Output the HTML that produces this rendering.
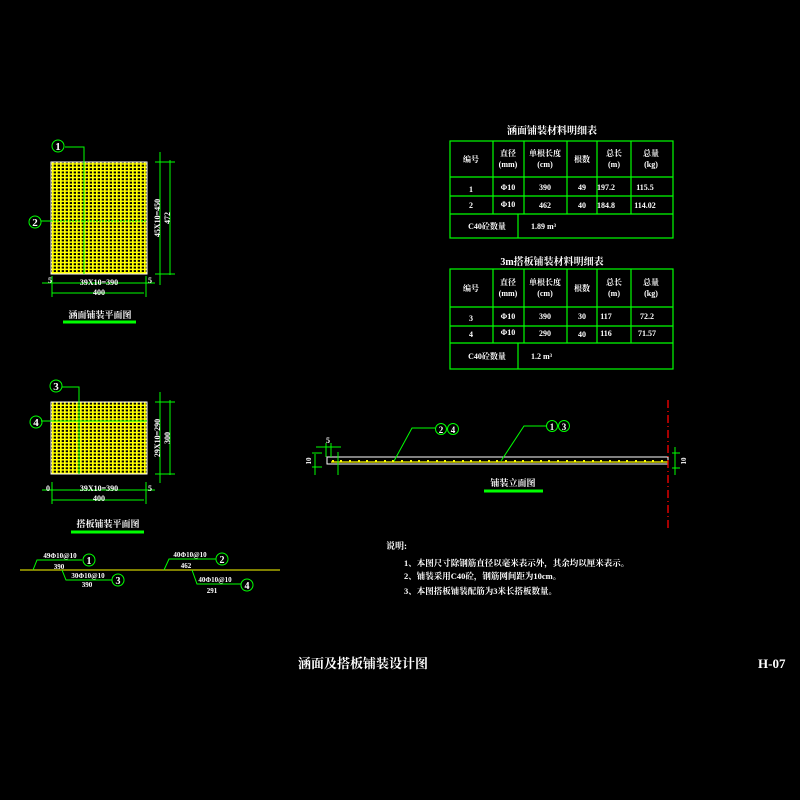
<!DOCTYPE html>
<html><head><meta charset="utf-8"><style>
html,body{margin:0;padding:0;background:#000;width:800px;height:800px;overflow:hidden}
svg{display:block}
text{font-family:"Liberation Serif","Noto Serif CJK SC","Noto Sans CJK SC",serif;fill:#fff;font-weight:bold}
</style></head><body>
<svg width="800" height="800" viewBox="0 0 800 800" xmlns="http://www.w3.org/2000/svg">
<defs>
<pattern id="g" width="4" height="3.4" patternUnits="userSpaceOnUse">
<rect width="4" height="3.4" fill="#000"/>
<rect x="0" y="0" width="1.7" height="3.4" fill="#ff0"/>
<rect x="0" y="0" width="4" height="1.5" fill="#ff0"/>
</pattern>
</defs>
<rect width="800" height="800" fill="#000"/>

<!-- Plan 1 -->
<rect x="51" y="162" width="96" height="112" fill="url(#g)" stroke="#fff" stroke-width="1"/>
<g stroke="#0f0" stroke-width="1" fill="none">
<line x1="84" y1="162" x2="84" y2="274"/>
<polyline points="65,147 84,147 84,162"/>
<circle cx="58" cy="146" r="6"/>
<polyline points="41,221 51,221"/>
<line x1="51" y1="221" x2="147" y2="221" stroke-dasharray="2,1"/>
<circle cx="35" cy="222" r="6"/>
<line x1="160" y1="152" x2="160" y2="285"/>
<line x1="170" y1="160" x2="170" y2="275"/>
<line x1="155" y1="162" x2="175" y2="162"/>
<line x1="155" y1="274" x2="175" y2="274"/>
<line x1="42" y1="283" x2="155" y2="283"/>
<line x1="52" y1="293" x2="144" y2="293"/>
<line x1="52" y1="276" x2="52" y2="297"/>
<line x1="146" y1="276" x2="146" y2="297"/>
<line x1="63" y1="322" x2="136" y2="322" stroke-width="3"/>
</g>
<text x="58" y="150" font-size="11" text-anchor="middle">1</text>
<text x="35" y="226" font-size="11" text-anchor="middle">2</text>
<text x="99" y="285" font-size="8" text-anchor="middle">39X10=390</text>
<text x="99" y="295" font-size="8" text-anchor="middle">400</text>
<text x="48" y="283" font-size="8">5</text><text x="148" y="283" font-size="8">5</text>
<text transform="translate(160,218) rotate(-90)" font-size="8" text-anchor="middle">45X10=450</text>
<text transform="translate(170,218) rotate(-90)" font-size="8" text-anchor="middle">472</text>
<text x="100" y="318" font-size="9" text-anchor="middle">涵面铺装平面图</text>

<!-- Plan 2 -->
<rect x="51" y="402" width="96" height="72" fill="url(#g)" stroke="#fff" stroke-width="1"/>
<g stroke="#0f0" stroke-width="1" fill="none">
<line x1="79" y1="402" x2="79" y2="474"/>
<polyline points="62,387 79,387 79,402"/>
<circle cx="56" cy="386" r="6"/>
<line x1="41" y1="421" x2="147" y2="421"/>
<circle cx="36" cy="422" r="6"/>
<line x1="160" y1="392" x2="160" y2="483"/>
<line x1="170" y1="400" x2="170" y2="475"/>
<line x1="155" y1="402" x2="175" y2="402"/>
<line x1="155" y1="474" x2="175" y2="474"/>
<line x1="42" y1="490" x2="155" y2="490"/>
<line x1="52" y1="500" x2="144" y2="500"/>
<line x1="52" y1="482" x2="52" y2="504"/>
<line x1="146" y1="482" x2="146" y2="504"/>
<line x1="71" y1="532" x2="144" y2="532" stroke-width="3"/>
</g>
<text x="56" y="390" font-size="11" text-anchor="middle">3</text>
<text x="36" y="426" font-size="11" text-anchor="middle">4</text>
<text x="99" y="491" font-size="8" text-anchor="middle">39X10=390</text>
<text x="99" y="501" font-size="8" text-anchor="middle">400</text>
<text x="46" y="491" font-size="8">0</text><text x="148" y="491" font-size="8">5</text>
<text transform="translate(160,438) rotate(-90)" font-size="8" text-anchor="middle">29X10=290</text>
<text transform="translate(170,438) rotate(-90)" font-size="8" text-anchor="middle">300</text>
<text x="108" y="527" font-size="9" text-anchor="middle">搭板铺装平面图</text>

<!-- bar shapes -->
<line x1="20" y1="570" x2="280" y2="570" stroke="#ff0" stroke-width="1"/>
<g stroke="#0f0" stroke-width="1" fill="none">
<polyline points="33,570 37,560 82,560"/><circle cx="89" cy="560" r="6"/>
<polyline points="62,570 66,580 112,580"/><circle cx="118" cy="580" r="6"/>
<polyline points="164,570 169,559 216,559"/><circle cx="222" cy="559" r="6"/>
<polyline points="192,570 197,584 241,584"/><circle cx="247" cy="585" r="6"/>
</g>
<text x="60" y="558" font-size="7" text-anchor="middle">49Φ10@10</text>
<text x="59" y="569" font-size="7" text-anchor="middle">390</text>
<text x="89" y="564" font-size="10" text-anchor="middle">1</text>
<text x="88" y="578" font-size="7" text-anchor="middle">30Φ10@10</text>
<text x="87" y="587" font-size="7" text-anchor="middle">390</text>
<text x="118" y="584" font-size="10" text-anchor="middle">3</text>
<text x="190" y="557" font-size="7" text-anchor="middle">40Φ10@10</text>
<text x="186" y="568" font-size="7" text-anchor="middle">462</text>
<text x="222" y="563" font-size="10" text-anchor="middle">2</text>
<text x="215" y="582" font-size="7" text-anchor="middle">40Φ10@10</text>
<text x="212" y="593" font-size="7" text-anchor="middle">291</text>
<text x="247" y="589" font-size="10" text-anchor="middle">4</text>

<!-- Table 1 -->
<text x="552" y="134" font-size="10" text-anchor="middle">涵面铺装材料明细表</text>
<g stroke="#0f0" stroke-width="1.2" fill="none">
<rect x="450" y="141" width="223" height="97"/>
<line x1="450" y1="177" x2="673" y2="177"/>
<line x1="450" y1="196" x2="673" y2="196"/>
<line x1="450" y1="214" x2="673" y2="214"/>
<line x1="493" y1="141" x2="493" y2="214"/>
<line x1="524" y1="141" x2="524" y2="214"/>
<line x1="567" y1="141" x2="567" y2="214"/>
<line x1="597" y1="141" x2="597" y2="214"/>
<line x1="631" y1="141" x2="631" y2="214"/>
<line x1="518" y1="214" x2="518" y2="238"/>
</g>
<g font-size="8" text-anchor="middle">
<text x="471" y="162">编号</text>
<text x="508" y="156">直径</text><text x="508" y="167">(mm)</text>
<text x="545" y="156">单根长度</text><text x="545" y="167">(cm)</text>
<text x="582" y="162">根数</text>
<text x="614" y="156">总长</text><text x="614" y="167">(m)</text>
<text x="651" y="156">总量</text><text x="651" y="167">(kg)</text>
<text x="471" y="192">1</text><text x="508" y="190">Φ10</text><text x="545" y="190">390</text><text x="582" y="190">49</text><text x="606" y="190">197.2</text><text x="645" y="190">115.5</text>
<text x="471" y="208">2</text><text x="508" y="207">Φ10</text><text x="545" y="208">462</text><text x="582" y="208">40</text><text x="606" y="208">184.8</text><text x="645" y="208">114.02</text>
<text x="487" y="229">C40砼数量</text>
</g>
<text x="531" y="229" font-size="8">1.89 m³</text>

<!-- Table 2 -->
<text x="552" y="265" font-size="10" text-anchor="middle">3m搭板铺装材料明细表</text>
<g stroke="#0f0" stroke-width="1.2" fill="none">
<rect x="450" y="269" width="223" height="100"/>
<line x1="450" y1="307" x2="673" y2="307"/>
<line x1="450" y1="326" x2="673" y2="326"/>
<line x1="450" y1="343" x2="673" y2="343"/>
<line x1="493" y1="269" x2="493" y2="343"/>
<line x1="524" y1="269" x2="524" y2="343"/>
<line x1="567" y1="269" x2="567" y2="343"/>
<line x1="597" y1="269" x2="597" y2="343"/>
<line x1="631" y1="269" x2="631" y2="343"/>
<line x1="518" y1="343" x2="518" y2="369"/>
</g>
<g font-size="8" text-anchor="middle">
<text x="471" y="291">编号</text>
<text x="508" y="285">直径</text><text x="508" y="296">(mm)</text>
<text x="545" y="285">单根长度</text><text x="545" y="296">(cm)</text>
<text x="582" y="291">根数</text>
<text x="614" y="285">总长</text><text x="614" y="296">(m)</text>
<text x="651" y="285">总量</text><text x="651" y="296">(kg)</text>
<text x="471" y="321">3</text><text x="508" y="319">Φ10</text><text x="545" y="319">390</text><text x="582" y="319">30</text><text x="606" y="319">117</text><text x="647" y="319">72.2</text>
<text x="471" y="337">4</text><text x="508" y="335">Φ10</text><text x="545" y="336">290</text><text x="582" y="337">40</text><text x="606" y="336">116</text><text x="647" y="336">71.57</text>
<text x="487" y="359">C40砼数量</text>
</g>
<text x="531" y="359" font-size="8">1.2  m³</text>

<!-- Elevation -->
<rect x="327" y="457" width="341" height="7" fill="none" stroke="#fff" stroke-width="1"/>
<line x1="331" y1="462" x2="668" y2="462" stroke="#ff0" stroke-width="1.3"/>
<g fill="#ff0">
<rect x="332" y="460" width="2" height="2"/><rect x="340" y="460" width="2" height="2"/><rect x="349" y="460" width="2" height="2"/><rect x="358" y="460" width="2" height="2"/><rect x="366" y="460" width="2" height="2"/><rect x="375" y="460" width="2" height="2"/><rect x="384" y="460" width="2" height="2"/><rect x="392" y="460" width="2" height="2"/><rect x="401" y="460" width="2" height="2"/><rect x="410" y="460" width="2" height="2"/><rect x="418" y="460" width="2" height="2"/><rect x="427" y="460" width="2" height="2"/><rect x="436" y="460" width="2" height="2"/><rect x="444" y="460" width="2" height="2"/><rect x="453" y="460" width="2" height="2"/><rect x="462" y="460" width="2" height="2"/><rect x="470" y="460" width="2" height="2"/><rect x="479" y="460" width="2" height="2"/><rect x="488" y="460" width="2" height="2"/><rect x="496" y="460" width="2" height="2"/><rect x="505" y="460" width="2" height="2"/><rect x="514" y="460" width="2" height="2"/><rect x="522" y="460" width="2" height="2"/><rect x="531" y="460" width="2" height="2"/><rect x="540" y="460" width="2" height="2"/><rect x="548" y="460" width="2" height="2"/><rect x="557" y="460" width="2" height="2"/><rect x="566" y="460" width="2" height="2"/><rect x="574" y="460" width="2" height="2"/><rect x="583" y="460" width="2" height="2"/><rect x="592" y="460" width="2" height="2"/><rect x="600" y="460" width="2" height="2"/><rect x="609" y="460" width="2" height="2"/><rect x="618" y="460" width="2" height="2"/><rect x="626" y="460" width="2" height="2"/><rect x="635" y="460" width="2" height="2"/><rect x="644" y="460" width="2" height="2"/><rect x="652" y="460" width="2" height="2"/><rect x="661" y="460" width="2" height="2"/>
</g>
<g stroke="#0f0" stroke-width="1" fill="none">
<polyline points="394,461 412,428 435,428"/><circle cx="441" cy="429" r="5.5"/><circle cx="453" cy="429" r="5.5"/>
<polyline points="501,461 524,426 547,426"/><circle cx="552" cy="426" r="5.5"/><circle cx="564" cy="426" r="5.5"/>
<line x1="315" y1="454" x2="315" y2="475"/><line x1="312" y1="453" x2="322" y2="453"/><line x1="312" y1="467" x2="322" y2="467"/>
<line x1="326" y1="443" x2="326" y2="457"/><line x1="331" y1="443" x2="331" y2="457"/><line x1="316" y1="447" x2="341" y2="447"/>
<line x1="338" y1="452" x2="338" y2="475"/>
<line x1="675" y1="447" x2="675" y2="475"/><line x1="672" y1="453" x2="680" y2="453"/><line x1="672" y1="468" x2="680" y2="468"/>
<line x1="484" y1="491" x2="543" y2="491" stroke-width="3"/>
</g>
<line x1="668" y1="400" x2="668" y2="530" stroke="#f00" stroke-width="1.3" stroke-dasharray="8,3,1,3"/>
<text x="441" y="433" font-size="9" text-anchor="middle">2</text><text x="453" y="433" font-size="9" text-anchor="middle">4</text>
<text x="552" y="430" font-size="9" text-anchor="middle">1</text><text x="564" y="430" font-size="9" text-anchor="middle">3</text>
<text x="326" y="443" font-size="8">5</text>
<text transform="translate(311,461) rotate(-90)" font-size="7" text-anchor="middle">10</text>
<text transform="translate(686,461) rotate(-90)" font-size="7" text-anchor="middle">10</text>
<text x="513" y="486" font-size="9" text-anchor="middle">铺装立面图</text>

<!-- Notes -->
<text x="386" y="549" font-size="9">说明:</text>
<text x="404" y="566" font-size="8.5">1、本图尺寸除钢筋直径以毫米表示外，其余均以厘米表示。</text>
<text x="404" y="579" font-size="8.5">2、铺装采用C40砼，钢筋网间距为10cm。</text>
<text x="404" y="594" font-size="8.5">3、本图搭板铺装配筋为3米长搭板数量。</text>

<text x="298" y="668" font-size="13">涵面及搭板铺装设计图</text>
<text x="758" y="668" font-size="13">H-07</text>
</svg>
</body></html>
